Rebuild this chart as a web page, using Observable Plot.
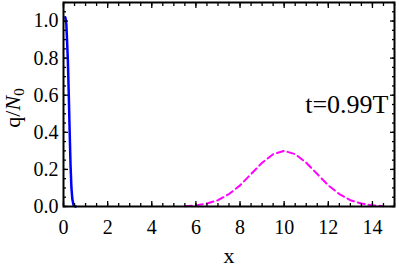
<!DOCTYPE html>
<html><head><meta charset="utf-8">
<script src="https://cdn.jsdelivr.net/npm/d3@7"></script>
<script src="https://cdn.jsdelivr.net/npm/@observablehq/plot@0.6"></script>
<style>
html,body{margin:0;padding:0;background:#fff;}
svg{display:block;}
</style></head><body>
<div id="chart"></div>
<script>
// Blue curve (initial pulse near x=0)
const blueX = [0.08, 0.10, 0.13, 0.16, 0.20, 0.24, 0.28, 0.32, 0.36, 0.40, 0.45, 0.50, 0.55];
const blueY = [1.02, 1.01, 0.98, 0.90, 0.78, 0.60, 0.40, 0.22, 0.10, 0.04, 0.01, 0.002, 0.0];
// Magenta dashed curve (pulse at x≈10)
const magX = [5.5, 6.0, 6.5, 7.0, 7.5, 8.0, 8.5, 9.0, 9.5, 10.0, 10.5, 11.0, 11.5, 12.0, 12.5, 13.0, 13.5, 14.0, 14.5];
const magY = [0.002, 0.006, 0.016, 0.034, 0.067, 0.114, 0.175, 0.236, 0.282, 0.300, 0.282, 0.236, 0.175, 0.114, 0.067, 0.034, 0.016, 0.006, 0.002];
// Ticks
const xMajor = [0, 2, 4, 6, 8, 10, 12, 14];
const xMinor = d3.range(0, 15.01, 0.5);
const yMajor = [0, 0.2, 0.4, 0.6, 0.8, 1.0];
const yMinor = d3.range(0, 1.101, 0.05);
const annotation = ["t=0.99T"];
const xLabel = ["x"];

const blue = blueX.map((x, i) => ({x, y: blueY[i]}));
const mag = magX.map((x, i) => ({x, y: magY[i]}));

const font = "'Liberation Serif', 'Times New Roman', serif";
const plot = Plot.plot({
  width: 399, height: 268,
  marginLeft: 63, marginRight: 5, marginTop: 2, marginBottom: 62,
  style: {fontFamily: font, fontSize: "20px", color: "#000", background: "#fff"},
  x: {domain: [0, 15]},
  y: {domain: [0, 1.1]},
  marks: [
    Plot.line(mag, {x: "x", y: "y", stroke: "#ff00ff", strokeWidth: 2, strokeDasharray: "7,4"}),
    Plot.line(blue, {x: "x", y: "y", stroke: "#0000ff", strokeWidth: 2.5}),
    // minor ticks
    Plot.axisX(xMinor, {anchor: "bottom", tickSize: -3, text: null, label: null, strokeWidth: 1.3}),
    Plot.axisX(xMinor, {anchor: "top", tickSize: -3, text: null, label: null, strokeWidth: 1.3}),
    Plot.axisY(yMinor, {anchor: "left", tickSize: -3, text: null, label: null, strokeWidth: 1.3}),
    Plot.axisY(yMinor, {anchor: "right", tickSize: -3, text: null, label: null, strokeWidth: 1.3}),
    // major ticks
    Plot.axisX(xMajor, {anchor: "bottom", tickSize: -5, text: null, label: null, strokeWidth: 1.3}),
    Plot.axisX(xMajor, {anchor: "top", tickSize: -5, text: null, label: null, strokeWidth: 1.3}),
    Plot.axisY(yMajor, {anchor: "left", tickSize: -5, text: null, label: null, strokeWidth: 1.3}),
    Plot.axisY(yMajor, {anchor: "right", tickSize: -5, text: null, label: null, strokeWidth: 1.3}),
    // labels
    Plot.axisX(xMajor, {anchor: "bottom", tickSize: 0, tickPadding: 13, label: null, fontSize: 20}),
    Plot.axisY(yMajor, {anchor: "left", tickSize: 0, tickPadding: 5, label: null, fontSize: 20, tickFormat: d3.format(".1f")}),
    Plot.frame({stroke: "#000", strokeWidth: 2}),
    Plot.text(annotation, {frameAnchor: "right", dx: -6, textAnchor: "end", fontSize: 26, text: d => d}),
    Plot.text(xLabel, {frameAnchor: "bottom", dy: 56, fontSize: 22, text: d => d})
  ]
});
document.getElementById("chart").appendChild(plot);
// y-axis label with italic N and subscript 0
const svg = d3.select(plot);
const t = svg.append("text")
  .attr("transform", "translate(20,108) rotate(-90)")
  .attr("text-anchor", "middle")
  .attr("font-family", font)
  .attr("font-size", 22)
  .attr("fill", "#000");
t.append("tspan").text("q/");
t.append("tspan").attr("font-style", "italic").text("N");
t.append("tspan").attr("font-size", 15).attr("dy", 4).text("0");
</script>
</body></html>
